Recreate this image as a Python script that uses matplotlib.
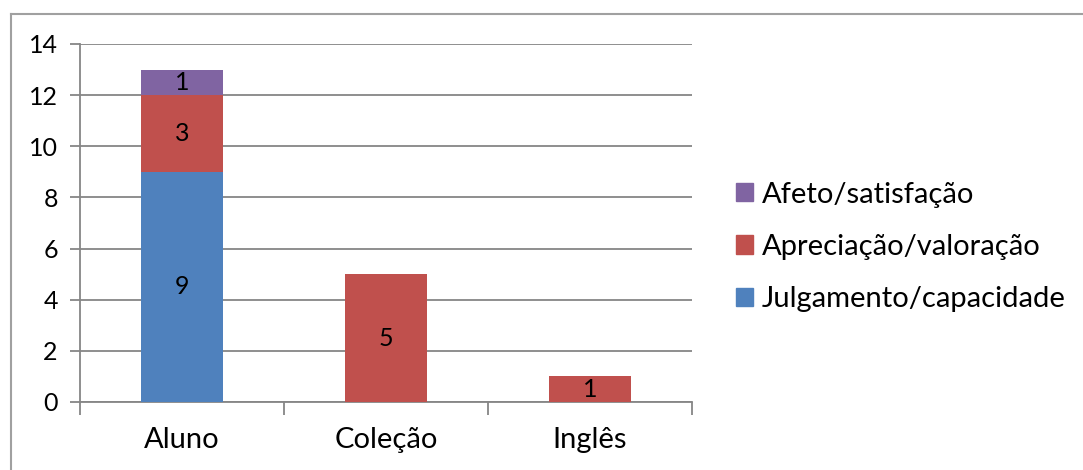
import matplotlib.pyplot as plt
import numpy as np
from matplotlib.lines import Line2D
from matplotlib.patches import Patch

plt.rcParams['font.family'] = ['Lato', 'DejaVu Sans']

categorias = ['Aluno', 'Coleção', 'Inglês']
julgamento = [9, 0, 0]
apreciacao = [3, 5, 1]
afeto = [1, 0, 0]
series_nomes = ['Julgamento/capacidade', 'Apreciação/valoração', 'Afeto/satisfação']
cores = ['#4F81BD', '#C0504D', '#8064A2']
yticks = [0, 2, 4, 6, 8, 10, 12, 14]

fig = plt.figure(figsize=(10.83, 4.70), dpi=100)
ax = fig.add_axes([0.0739, 0.1447, 0.565, 0.7617])

x = np.arange(len(categorias))
base = np.zeros(len(categorias))
for vals, cor in zip([julgamento, apreciacao, afeto], cores):
    vals = np.array(vals, dtype=float)
    ax.bar(x, vals, width=0.4, bottom=base, color=cor, zorder=3)
    for xi, b, v in zip(x, base, vals):
        if v > 0:
            ax.text(xi, b + v / 2, str(int(v)), ha='center', va='center',
                    fontsize=18, color='black', zorder=4)
    base = base + vals

ax.set_xlim(-0.5, 2.5)
ax.set_ylim(0, 14)
ax.set_yticks(yticks)
ax.set_yticklabels([str(t) for t in yticks], fontsize=18)
ax.set_xticks(x)
ax.set_xticklabels(categorias, fontsize=21)
ax.set_xticks([-0.5, 0.5, 1.5, 2.5], minor=True)
ax.tick_params(axis='x', which='major', length=0, pad=18)
ax.tick_params(axis='x', which='minor', length=9, color='#868686', width=1.3)
ax.tick_params(axis='y', length=7, color='#868686', width=1.3, pad=9)
ax.yaxis.grid(True, color='#868686', linewidth=1.3, zorder=0)
for s in ['top', 'right']:
    ax.spines[s].set_visible(False)
for s in ['left', 'bottom']:
    ax.spines[s].set_color('#868686')
    ax.spines[s].set_linewidth(1.3)

handles = [Patch(color=c) for c in cores[::-1]]
fig.legend(handles, series_nomes[::-1], loc='center left',
           bbox_to_anchor=(0.666, 0.475), frameon=False, fontsize=21,
           handlelength=0.58, handleheight=0.58, handletextpad=0.3,
           labelspacing=0.9, borderpad=0)

# moldura do grafico
fig.add_artist(Line2D([0.0102, 0.0102], [0.0, 0.970], color='#a0a0a0', linewidth=1.5))
fig.add_artist(Line2D([0.0102, 1.0], [0.970, 0.970], color='#a0a0a0', linewidth=1.5))

fig.savefig('out.png', dpi=100)
